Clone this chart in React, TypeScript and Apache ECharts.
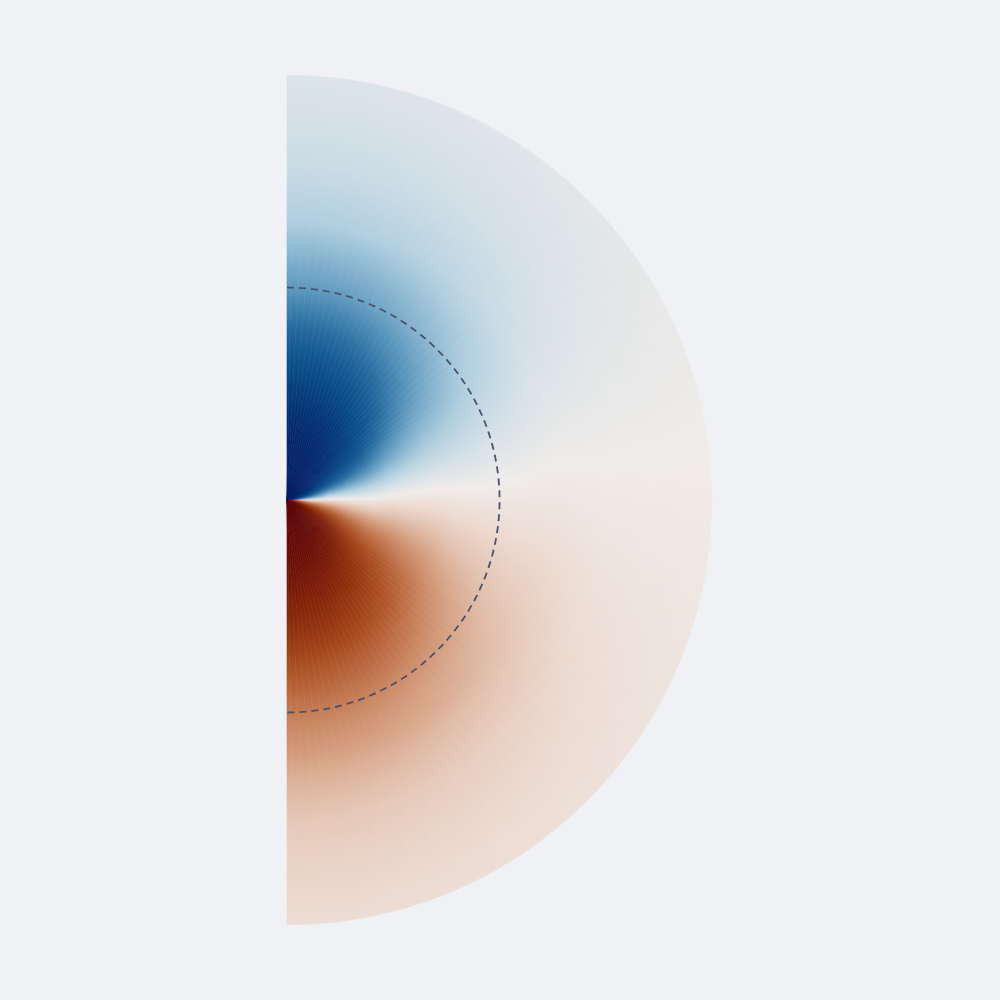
import React, { useEffect, useRef } from "react";
import * as echarts from "echarts";

// Radial sample positions (fraction of the half-disk radius)
const RADII = [0, 0.05, 0.1, 0.15, 0.2, 0.25, 0.3, 0.35, 0.4, 0.45, 0.5, 0.55, 0.6, 0.65, 0.7, 0.75, 0.8, 0.85, 0.9, 0.95, 1.0];
// Field value read along the upper (blue) vertical edge (magnitude)
const UPPER_AMP = [6, 3.0, 2.0, 1.55, 1.25, 1.0, 0.82, 0.68, 0.57, 0.48, 0.39, 0.33, 0.27, 0.21, 0.18, 0.15, 0.125, 0.11, 0.095, 0.08, 0.07];
// Field value read along the lower (red) vertical edge (magnitude)
const LOWER_AMP = [6, 3.0, 2.1, 1.6, 1.3, 1.1, 0.93, 0.79, 0.65, 0.55, 0.46, 0.39, 0.34, 0.275, 0.23, 0.185, 0.16, 0.135, 0.12, 0.1, 0.09];
// Angular spokes (degrees from the horizontal) and their relative weights
const SPOKE_ANGLES = [
  0, 0.5, 1, 1.5, 2, 2.5, 3, 3.5, 4, 4.5, 5, 5.5, 6, 6.5, 7, 7.5, 8, 8.5, 9, 9.5, 10,
  11, 12, 13, 14, 15, 16, 17, 18, 19, 20, 21, 22, 23, 24, 25, 26, 27, 28, 29, 30,
  32, 34, 36, 38, 40, 42, 44, 46, 48, 50, 52, 54, 56, 58, 60, 62, 64, 66, 68, 70,
  72, 74, 76, 78, 80, 82, 84, 86, 88, 90,
];
const SPOKE_WEIGHTS = [
  0, 0.0087, 0.0175, 0.0262, 0.0349, 0.0436, 0.0523, 0.061, 0.0698, 0.0785, 0.0872,
  0.0958, 0.1045, 0.1132, 0.1219, 0.1305, 0.1392, 0.1478, 0.1564, 0.165, 0.1736,
  0.1908, 0.2079, 0.225, 0.2419, 0.2588, 0.2756, 0.2924, 0.309, 0.3256, 0.342,
  0.3584, 0.3746, 0.3907, 0.4067, 0.4226, 0.4384, 0.454, 0.4695, 0.4848, 0.5,
  0.5299, 0.5592, 0.5878, 0.6157, 0.6428, 0.6691, 0.6947, 0.7193, 0.7431, 0.766,
  0.788, 0.809, 0.829, 0.848, 0.866, 0.8829, 0.8988, 0.9135, 0.9272, 0.9397,
  0.9511, 0.9613, 0.9703, 0.9781, 0.9848, 0.9903, 0.9945, 0.9976, 0.9994, 1.0,
];
// Dashed reference circle radius (fraction)
const REF_RADIUS = 0.5;

// Diverging palette (blue -> light -> red-brown)
const PALETTE = [
  "#011c64", "#03296f", "#053679", "#084683", "#0e5690", "#286c9f", "#5190b8",
  "#82b1cd", "#b1cfdf", "#d3e0e7", "#f0ece9", "#ecdad0", "#e3c3b1", "#d7a588",
  "#c98560", "#b9663c", "#a84c20", "#953610", "#82230a", "#6f1207", "#5c0506",
];

function colorFor(u: number): string {
  const s = Math.tanh(u);
  return echarts.color.lerp((s + 1) / 2, PALETTE) as string;
}

function buildSectors() {
  const n = SPOKE_ANGLES.length;
  const items: number[][] = [];
  for (let i = 0; i < n; i++) {
    const lo = i === 0 ? -0.25 : (SPOKE_ANGLES[i - 1] + SPOKE_ANGLES[i]) / 2;
    const hi = i === n - 1 ? 90 : (SPOKE_ANGLES[i] + SPOKE_ANGLES[i + 1]) / 2;
    items.push([lo, hi, i, 0]);
    if (i > 0) items.push([-hi, -lo, i, 1]);
  }
  return items;
}

export default function App() {
  const ref = useRef<HTMLDivElement>(null);
  useEffect(() => {
    if (!ref.current) return;
    const chart = echarts.init(ref.current, undefined, { renderer: "svg" });
    const sectors = buildSectors();

    const renderSector = (params: any, api: any) => {
      const lo = api.value(0);
      const hi = api.value(1);
      const idx = api.value(2);
      const half = api.value(3);
      const c = api.coord([0, 0]);
      const pHi = api.coord([1, hi]);
      const pLo = api.coord([1, lo]);
      const R = Math.hypot(pHi[0] - c[0], pHi[1] - c[1]);
      const aHi = Math.atan2(pHi[1] - c[1], pHi[0] - c[0]);
      const aLo = Math.atan2(pLo[1] - c[1], pLo[0] - c[0]);
      const w = SPOKE_WEIGHTS[idx];
      const sign = half === 1 ? 1 : -1;
      const stops = RADII.map((f, k) => {
        const amp = (UPPER_AMP[k] + LOWER_AMP[k]) / 2;
        const offset = (LOWER_AMP[k] - UPPER_AMP[k]) / 2;
        return { offset: f, color: colorFor(sign * amp * w + offset) };
      });
      const grad = new echarts.graphic.RadialGradient(c[0], c[1], R, stops, true);
      return {
        type: "sector",
        shape: { cx: c[0], cy: c[1], r0: 0, r: R - 0.3, startAngle: aHi, endAngle: aLo, clockwise: true },
        style: { fill: grad, stroke: grad, lineWidth: 0.6 },
        silent: true,
      };
    };

    const renderArc = (params: any, api: any) => {
      const c = api.coord([0, 0]);
      const p = api.coord([api.value(0), 0]);
      const r = Math.hypot(p[0] - c[0], p[1] - c[1]);
      return {
        type: "arc",
        shape: { cx: c[0], cy: c[1], r, startAngle: -Math.PI / 2, endAngle: Math.PI / 2, clockwise: true },
        style: { fill: "none", stroke: "#4b5270", lineWidth: 1.8, lineDash: [7, 5] },
        silent: true,
      };
    };

    chart.setOption({
      animation: false,
      backgroundColor: "#eff1f5",
      polar: { center: [287, 500], radius: 425 },
      angleAxis: { type: "value", min: -180, max: 180, startAngle: 180, clockwise: false, show: false },
      radiusAxis: { type: "value", min: 0, max: 1, show: false },
      series: [
        { type: "custom", coordinateSystem: "polar", data: sectors, renderItem: renderSector, silent: true, z: 2 },
        { type: "custom", coordinateSystem: "polar", data: [[REF_RADIUS, 0]], renderItem: renderArc, silent: true, z: 3 },
      ],
    });
    return () => chart.dispose();
  }, []);
  return <div ref={ref} style={{ position: "fixed", left: 0, top: 0, width: 1000, height: 1000 }} />;
}
